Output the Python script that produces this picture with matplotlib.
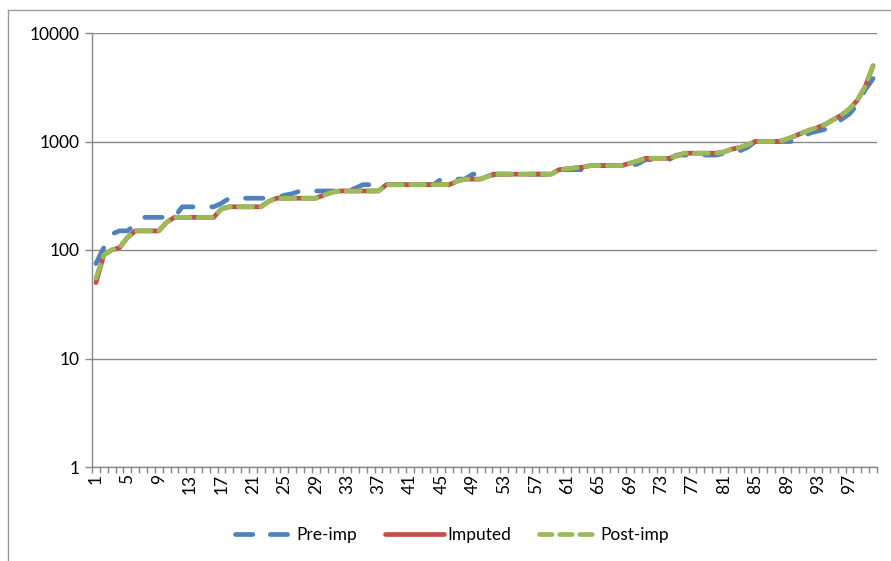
import matplotlib.pyplot as plt
from matplotlib.lines import Line2D
from matplotlib.ticker import FixedLocator, NullLocator, FuncFormatter

plt.rcParams['font.family'] = ['Lato', 'DejaVu Sans']
plt.rcParams['lines.scale_dashes'] = False

# category index 1..100 (values sorted ascending)
cats = list(range(1, 101))

pre_imp = [75, 105, 140, 150, 150, 170, 200, 200, 200, 200,
           200, 250, 250, 250, 250, 250, 270, 300, 300, 300,
           300, 300, 300, 300, 320, 330, 350, 350, 350, 350,
           350, 350, 350, 370, 400, 400, 400, 400, 400, 400,
           400, 400, 400, 400, 450, 450, 450, 450, 500, 500,
           500, 500, 500, 500, 500, 500, 500, 500, 500, 550,
           550, 550, 550, 600, 600, 600, 600, 600, 600, 620,
           680, 680, 680, 680, 750, 750, 750, 750, 750, 750,
           780, 800, 820, 880, 1000, 1000, 1000, 1000, 1000, 1000,
           1100, 1200, 1250, 1300, 1450, 1600, 1800, 2200, 3000, 3800]

imputed = [50, 90, 100, 105, 130, 150, 150, 150, 150, 180,
           200, 200, 200, 200, 200, 200, 240, 250, 250, 250,
           250, 250, 280, 300, 300, 300, 300, 300, 300, 320,
           340, 350, 350, 350, 350, 350, 350, 400, 400, 400,
           400, 400, 400, 400, 400, 400, 430, 450, 450, 450,
           480, 500, 500, 500, 500, 500, 500, 500, 500, 550,
           560, 570, 580, 600, 600, 600, 600, 600, 630, 660,
           700, 700, 700, 700, 740, 780, 780, 780, 780, 780,
           800, 850, 880, 930, 1000, 1000, 1000, 1000, 1050, 1120,
           1200, 1280, 1350, 1450, 1600, 1750, 2000, 2400, 3200, 5000]

post_imp = [55, 90, 100, 105, 130, 150, 150, 150, 150, 180,
            200, 200, 200, 200, 200, 200, 240, 250, 250, 250,
            250, 250, 280, 300, 300, 300, 300, 300, 300, 320,
            340, 350, 350, 350, 350, 350, 350, 400, 400, 400,
            400, 400, 400, 400, 400, 400, 430, 450, 450, 450,
            480, 500, 500, 500, 500, 500, 500, 500, 500, 550,
            560, 570, 580, 600, 600, 600, 600, 600, 630, 660,
            700, 700, 700, 700, 740, 780, 780, 780, 780, 780,
            800, 850, 880, 930, 1000, 1000, 1000, 1000, 1050, 1120,
            1200, 1280, 1350, 1450, 1600, 1750, 2000, 2400, 3200, 5000]

blue = '#4F81BD'
red = '#C0504D'
green = '#9BBB59'
grid_col = '#888888'

fig = plt.figure(figsize=(8.91, 5.61), dpi=100)
ax = fig.add_axes([92 / 891, 1 - 467 / 561, 785 / 891, 434 / 561])

lw = 3.4
blue_dash = (12.5, 13.5)
green_dash = (10.0, 6.0)

ax.plot(cats, pre_imp, color=blue, lw=lw, dashes=blue_dash, dash_capstyle='round',
        dash_joinstyle='round', label='Pre-imp', zorder=3)
ax.plot(cats, imputed, color=red, lw=lw, solid_capstyle='round',
        solid_joinstyle='round', label='Imputed', zorder=4)
ax.plot(cats, post_imp, color=green, lw=lw, dashes=green_dash, dash_capstyle='round',
        dash_joinstyle='round', label='Post-imp', zorder=5)

ax.set_yscale('log')
ax.set_ylim(1, 10000)
ax.set_xlim(0.5, 100.5)

ax.yaxis.set_major_locator(FixedLocator([1, 10, 100, 1000, 10000]))
ax.yaxis.set_minor_locator(NullLocator())
ax.yaxis.set_major_formatter(FuncFormatter(lambda v, p: '%d' % v))
ax.grid(True, axis='y', which='major', color=grid_col, lw=1.0)
ax.set_axisbelow(True)

ax.set_xticks(cats[::4])
ax.set_xticklabels([str(c) for c in cats[::4]], rotation=90)
ax.set_xticks([c + 0.5 for c in range(0, 101)], minor=True)
ax.tick_params(axis='x', which='major', length=0, pad=5, labelsize=12.5, colors='black')
ax.tick_params(axis='x', which='minor', length=4, width=1, color=grid_col)
ax.tick_params(axis='y', which='major', length=5, width=1, color=grid_col, labelsize=12.5, pad=4)

for s in ['top', 'right']:
    ax.spines[s].set_visible(False)
for s in ['left', 'bottom']:
    ax.spines[s].set_color(grid_col)
    ax.spines[s].set_linewidth(1.0)

handles = [
    Line2D([], [], color=blue, lw=lw, dashes=(12.5, 12.5), dash_capstyle='round'),
    Line2D([], [], color=red, lw=lw, solid_capstyle='round'),
    Line2D([], [], color=green, lw=lw, dashes=(9.0, 5.5), dash_capstyle='round'),
]
fig.legend(handles, ['Pre-imp', 'Imputed', 'Post-imp'], loc='center',
           bbox_to_anchor=(452 / 891, 1 - 535 / 561), ncol=3, frameon=False,
           fontsize=12.5, handlelength=3.4, handletextpad=0.15, columnspacing=1.6)

# chart area border (top and left visible)
fig.add_artist(Line2D([8 / 891, 8 / 891], [0, 1 - 10 / 561], color='#9a9a9a', lw=1.0))
fig.add_artist(Line2D([8 / 891, 1], [1 - 10 / 561, 1 - 10 / 561], color='#9a9a9a', lw=1.0))

fig.savefig('out.png', dpi=100)
